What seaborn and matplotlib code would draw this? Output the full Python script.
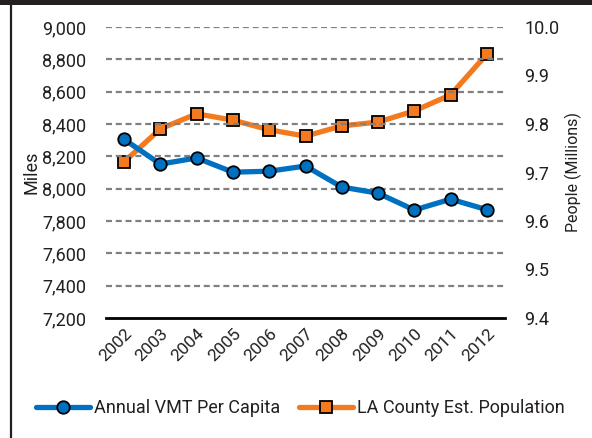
import matplotlib
matplotlib.use("Agg")
import matplotlib.pyplot as plt
import seaborn as sns
import pandas as pd
from matplotlib.lines import Line2D

years = ["2002", "2003", "2004", "2005", "2006", "2007", "2008", "2009", "2010", "2011", "2012"]
vmt = [8305, 8152, 8190, 8102, 8108, 8140, 8010, 7972, 7868, 7935, 7870]
population = [9.722, 9.790, 9.821, 9.808, 9.788, 9.775, 9.796, 9.804, 9.827, 9.860, 9.944]
left_ticks = [7200, 7400, 7600, 7800, 8000, 8200, 8400, 8600, 8800, 9000]
right_ticks = [9.4, 9.5, 9.6, 9.7, 9.8, 9.9, 10.0]

BLUE = "#0070c0"
ORANGE = "#f47a20"
TXT = "#231f20"

sns.set_theme(style="white")
plt.rcParams["font.family"] = ["Roboto", "DejaVu Sans"]

df = pd.DataFrame({"x": range(len(years)), "vmt": vmt, "pop": population})

fig = plt.figure(figsize=(5.92, 4.38), dpi=100)
ax = fig.add_axes([106/592, 1-318/438, (505-106)/592, (318-27)/438])
ax2 = ax.twinx()

for y in left_ticks[1:]:
    ax.axhline(y, color="#808080", lw=1.6, ls=(0, (2.7, 1.7)), zorder=0)

sns.lineplot(data=df, x="x", y="vmt", ax=ax, color=BLUE, lw=3.8, marker="o",
             markersize=9, markeredgecolor="black", markeredgewidth=1.3,
             markerfacecolor=BLUE, zorder=3)
sns.lineplot(data=df, x="x", y="pop", ax=ax2, color=ORANGE, lw=3.8, marker="s",
             markersize=9, markeredgecolor="black", markeredgewidth=1.3,
             markerfacecolor=ORANGE, zorder=3)

ax.set_xlim(-0.5, len(years) - 0.5)
ax.set_ylim(7200, 9000)
ax2.set_ylim(9.4, 10.0)
ax.set_yticks(left_ticks)
ax.set_yticklabels([f"{v:,}" for v in left_ticks])
ax2.set_yticks(right_ticks)
ax2.set_yticklabels([f"{v:.1f}" for v in right_ticks])
ax.set_xticks(range(len(years)))
ax.set_xticklabels(years, rotation=45, ha="right", rotation_mode="anchor")

for a in (ax, ax2):
    for s in a.spines.values():
        s.set_visible(False)
    a.tick_params(length=0, labelsize=13, colors=TXT)
    a.set_xlabel("")
ax.spines["bottom"].set_visible(True)
ax.spines["bottom"].set_color("black")
ax.spines["bottom"].set_linewidth(2)
ax.tick_params(axis="y", pad=14)
ax.tick_params(axis="x", pad=6, labelsize=12.5)
ax2.tick_params(axis="y", pad=14)

ax.set_ylabel("Miles", fontsize=13, color=TXT)
ax.yaxis.set_label_coords(-0.165, 0.5)
ax2.set_ylabel("People (Millions)", fontsize=11.5, color=TXT)
ax2.yaxis.set_label_coords(1.15, 0.5)

ax.set_zorder(ax2.get_zorder() + 1)
ax.patch.set_visible(False)

h1 = Line2D([], [], color=BLUE, lw=3.8, marker="o", markersize=9,
            markerfacecolor=BLUE, markeredgecolor="black", markeredgewidth=1.3)
h2 = Line2D([], [], color=ORANGE, lw=3.8, marker="s", markersize=9,
            markerfacecolor=ORANGE, markeredgecolor="black", markeredgewidth=1.3)
fig.legend([h1, h2], ["Annual VMT Per Capita", "LA County Est. Population"],
           loc="center", bbox_to_anchor=(0.507, 1-408/438), ncol=2, frameon=False,
           fontsize=13, handlelength=3.0, handletextpad=0.22, columnspacing=1.05,
           numpoints=1, labelcolor=TXT)

# frame decorations: top bar and left rule
fig.add_artist(plt.Rectangle((0, 1-5/438), 1, 5/438, transform=fig.transFigure,
                             color=TXT, lw=0))
fig.add_artist(Line2D([10.5/592, 10.5/592], [0, 1], transform=fig.transFigure,
                      color=TXT, lw=1.6))

fig.savefig("out.png", dpi=100)
